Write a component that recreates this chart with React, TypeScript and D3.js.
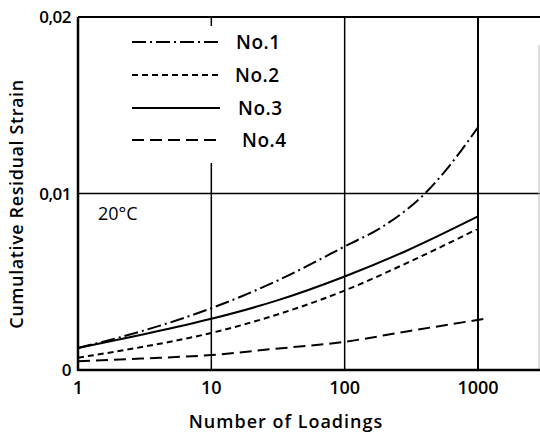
import React from "react";
import * as d3 from "d3";

const loadings = [1, 3, 10, 30, 100, 300, 1000];
const loadingsNo1 = [1, 3, 10, 30, 100, 200, 400, 600, 1000];
const loadingsNo4 = [1, 3, 10, 30, 100, 300, 1120];
const no1 = [0.00125, 0.0022, 0.0035, 0.005, 0.007, 0.0082, 0.01, 0.0115, 0.01375];
const no2 = [0.0007, 0.0013, 0.0021, 0.0031, 0.0045, 0.0061, 0.008];
const no3 = [0.00125, 0.002, 0.0029, 0.0039, 0.0053, 0.0068, 0.0087];
const no4 = [0.0005, 0.00065, 0.00085, 0.0012, 0.0016, 0.0022, 0.0029];
const seriesNames = ["No.1", "No.2", "No.3", "No.4"];
const xTicks = [1, 10, 100, 1000];
const xTickLabels = ["1", "10", "100", "1000"];
const yTicks = [0, 0.01, 0.02];
const yTickLabels = ["0", "0,01", "0,02"];

const FONT = "'Open Sans', sans-serif";

export default function App() {
  const W = 540, H = 436;
  const x = d3.scaleLog().domain([1, 1000]).range([78, 478]);
  const y = d3.scaleLinear().domain([0, 0.02]).range([370, 17]);
  const xRight = 540;

  const series = [
    { xs: loadingsNo1, ys: no1, dash: "14,4,2,4" },
    { xs: loadings, ys: no2, dash: "6,4" },
    { xs: loadings, ys: no3, dash: "none" },
    { xs: loadingsNo4, ys: no4, dash: "12,6" },
  ];

  const line = d3
    .line<[number, number]>()
    .x((d) => x(d[0]))
    .y((d) => y(d[1]))
    .curve(d3.curveMonotoneX);

  const legendY = [42, 75, 108, 140];
  const legendTextX = [236, 235, 238, 242];

  return (
    <svg width={W} height={H} style={{ position: "absolute", left: 0, top: 0, background: "#fff" }}>
      {/* horizontal grid */}
      <line x1={x(1)} x2={xRight} y1={y(0.02)} y2={y(0.02)} stroke="#000" strokeWidth={2} />
      <line x1={x(1)} x2={xRight} y1={y(0.01)} y2={y(0.01)} stroke="#000" strokeWidth={1.5} />
      {/* vertical grid */}
      <line x1={x(10)} x2={x(10)} y1={y(0.02)} y2={y(0.02) + 9} stroke="#000" strokeWidth={1.5} />
      <line x1={x(10)} x2={x(10)} y1={163} y2={y(0)} stroke="#000" strokeWidth={1.5} />
      <line x1={x(100)} x2={x(100)} y1={y(0.02)} y2={y(0)} stroke="#000" strokeWidth={1.5} />
      <line x1={x(1000)} x2={x(1000)} y1={y(0.02)} y2={y(0)} stroke="#000" strokeWidth={2} />
      <line x1={539} x2={539} y1={45} y2={y(0)} stroke="#bbb" strokeWidth={1} />
      {/* axes */}
      <line x1={x(1)} x2={x(1)} y1={y(0.02)} y2={y(0) + 1} stroke="#000" strokeWidth={2.5} />
      <line x1={x(1)} x2={xRight} y1={y(0)} y2={y(0)} stroke="#000" strokeWidth={2.5} />

      {/* series */}
      {series.map((s, i) => (
        <path
          key={i}
          d={line(s.xs.map((v, j) => [v, s.ys[j]] as [number, number])) || ""}
          fill="none"
          stroke="#000"
          strokeWidth={2}
          strokeDasharray={s.dash}
        />
      ))}

      {/* legend */}
      {series.map((s, i) => (
        <g key={"lg" + i}>
          <line x1={132} x2={220} y1={legendY[i]} y2={legendY[i]} stroke="#000" strokeWidth={2} strokeDasharray={s.dash} />
          <text x={legendTextX[i]} y={legendY[i] + 7} fontFamily={FONT} fontSize={19} fontWeight={600} letterSpacing={0.5}>
            {seriesNames[i]}
          </text>
        </g>
      ))}

      {/* y tick labels */}
      {yTicks.map((t, i) => (
        <text key={"yt" + i} x={71} y={y(t) + 6} textAnchor="end" fontFamily={FONT} fontSize={17} fontWeight={600} letterSpacing={-0.5}>
          {yTickLabels[i]}
        </text>
      ))}
      {/* x tick labels */}
      {xTicks.map((t, i) => (
        <text key={"xt" + i} x={x(t)} y={394} textAnchor="middle" fontFamily={FONT} fontSize={18} fontWeight={600}>
          {xTickLabels[i]}
        </text>
      ))}

      <text x={98} y={220} fontFamily={FONT} fontSize={18}>
        20°C
      </text>

      <text x={286} y={428} textAnchor="middle" fontFamily={FONT} fontSize={18} fontWeight={600} letterSpacing={1}>
        Number of Loadings
      </text>
      <text
        transform="translate(23,204) rotate(-90)"
        textAnchor="middle"
        fontFamily={FONT}
        fontSize={18}
        fontWeight={600}
        letterSpacing={0.6}
      >
        Cumulative Residual Strain
      </text>
    </svg>
  );
}
